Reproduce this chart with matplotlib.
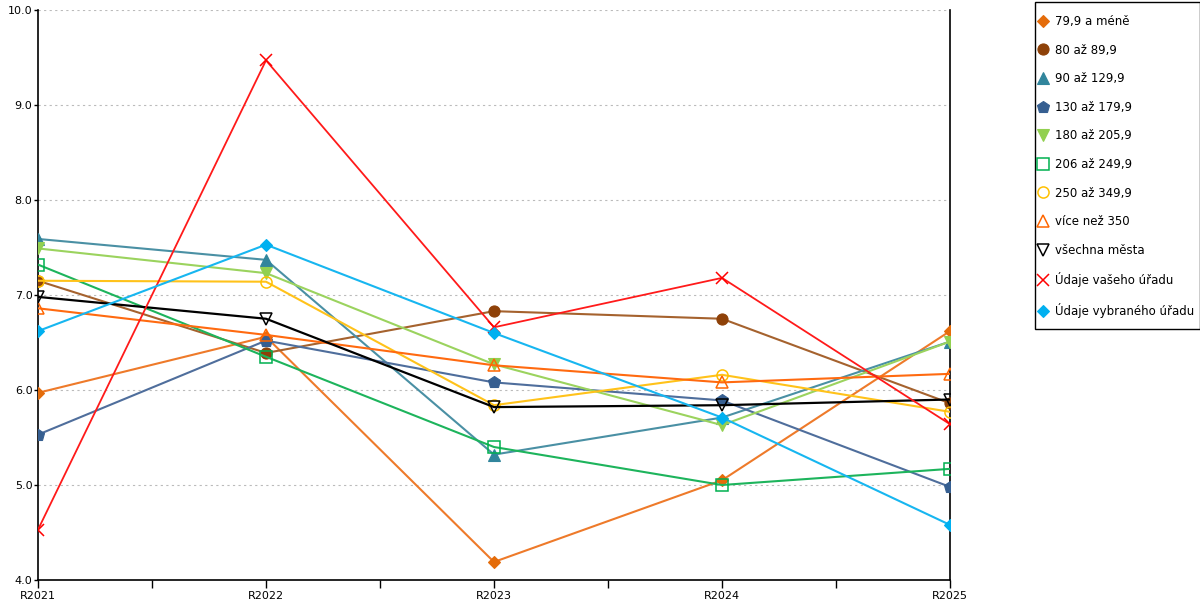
import matplotlib
matplotlib.use("Agg")
import matplotlib.pyplot as plt
from matplotlib.lines import Line2D
from matplotlib.patches import Rectangle

categories = ["R2021", "R2022", "R2023", "R2024", "R2025"]

s_79 = [5.97, 6.56, 4.19, 5.05, 6.62]
s_80 = [7.15, 6.39, 6.83, 6.75, 5.86]
s_90 = [7.59, 7.37, 5.32, 5.71, 6.51]
s_130 = [5.53, 6.52, 6.08, 5.89, 4.98]
s_180 = [7.49, 7.23, 6.27, 5.63, 6.51]
s_206 = [7.32, 6.35, 5.40, 5.00, 5.17]
s_250 = [7.15, 7.14, 5.84, 6.16, 5.77]
s_350 = [6.86, 6.58, 6.26, 6.08, 6.17]
s_all = [6.98, 6.75, 5.82, 5.84, 5.90]
s_vas = [4.53, 9.47, 6.66, 7.18, 5.64]
s_vyb = [6.62, 7.53, 6.60, 5.71, 4.58]

labels = ["79,9 a méně", "80 až 89,9", "90 až 129,9", "130 až 179,9",
          "180 až 205,9", "206 až 249,9", "250 až 349,9", "více než 350",
          "všechna města", "Údaje vašeho úřadu", "Údaje vybraného úřadu"]

series = [s_79, s_80, s_90, s_130, s_180, s_206, s_250, s_350, s_all, s_vas, s_vyb]
# (line color, marker, marker face, marker edge, marker size, line width)
styles = [
    ("#EE7A2A", "D", "#E46C0A", "#E46C0A", 6, 1.5),
    ("#A5622E", "o", "#8E4108", "#8E4108", 8, 1.5),
    ("#4A90A4", "^", "#31859C", "#31859C", 8, 1.5),
    ("#4F6E9C", "p", "#365F91", "#365F91", 9, 1.5),
    ("#9BD35E", "v", "#92D050", "#92D050", 8, 1.5),
    ("#1DB45C", "s", "none", "#00B050", 8, 1.5),
    ("#FFC21A", "o", "none", "#FFC000", 8, 1.5),
    ("#FF6A10", "^", "none", "#FF6600", 9, 1.5),
    ("#000000", "v", "none", "#000000", 9, 1.6),
    ("#FF1A1A", "x", "#FF0000", "#FF0000", 9, 1.3),
    ("#17B6F0", "D", "#00B0F0", "#00B0F0", 6, 1.5),
]

plt.rcParams['font.family'] = ['DejaVu Sans']
fig = plt.figure(figsize=(12, 6), dpi=100)
ax = fig.add_axes([38/1200, 20/600, (950-38)/1200, 570/600])

x = list(range(len(categories)))
handles = []
for vals, lab, (lc, mk, mf, me, ms, lw) in zip(series, labels, styles):
    mew = 1.1 if (mf == "none" or mk == "x") else 0.8
    ax.plot(x, vals, color=lc, lw=lw, marker=mk, markerfacecolor=mf,
            markeredgecolor=me, markersize=ms, markeredgewidth=mew, zorder=3)
    handles.append(Line2D([], [], linestyle="none", marker=mk, markerfacecolor=mf,
                          markeredgecolor=me, markersize=ms, markeredgewidth=mew))

ax.set_xlim(0, 4)
ax.set_ylim(4.0, 10.0)
ax.set_xticks(x)
ax.set_xticklabels(categories, fontsize=8)
ax.set_xticks([0.5, 1.5, 2.5, 3.5], minor=True)
ax.tick_params(axis='x', which='both', direction='out', length=6, width=1, pad=2)
ax.set_yticks([4, 5, 6, 7, 8, 9, 10])
ax.set_yticklabels([f"{v:.1f}" for v in [4, 5, 6, 7, 8, 9, 10]], fontsize=8)
ax.tick_params(axis='y', direction='out', length=3, width=1, pad=1)
ax.grid(axis='y', color='#BBBBBB', linestyle=(0, (2, 3)), linewidth=0.8)
ax.set_axisbelow(True)
for sp in ['left', 'bottom', 'right']:
    ax.spines[sp].set_color('black')
    ax.spines[sp].set_linewidth(1.2)
ax.spines['top'].set_visible(False)

leg = fig.legend(handles, labels, loc='upper left', bbox_to_anchor=(1038.5/1200, 1 - 15/600),
                 fontsize=8.5, frameon=False,
                 labelspacing=1.32, handlelength=0.75, handletextpad=0.62,
                 borderpad=0, borderaxespad=0)

fig.patches.append(Rectangle((1034.5/1200, (600-329)/600), (1199.5-1034.5)/1200, (329-1.5)/600,
                             transform=fig.transFigure, fill=False, edgecolor='black',
                             linewidth=1.0))

fig.savefig("out.png", dpi=100)
